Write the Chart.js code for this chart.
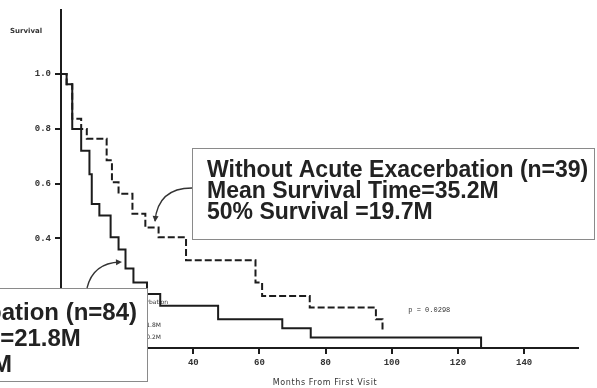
<!DOCTYPE html>
<html>
<head>
<meta charset="utf-8">
<script src="https://cdn.jsdelivr.net/npm/chart.js@4"></script>
<style>
  body { margin: 0; background: #fff; }
</style>
</head>
<body>
<canvas id="chart1" width="597" height="388"></canvas>
<script>
// Kaplan-Meier steps (months, survival after the drop)
const withMonths = [0, 1.7, 3.4, 6.1, 8.6, 9.3, 11.6, 15.0, 17.4, 19.5, 21.9, 26.0, 30.0, 47.5, 66.9, 75.5, 127.0];
const withSurvival = [1.0, 0.963, 0.80, 0.72, 0.634, 0.526, 0.484, 0.404, 0.36, 0.29, 0.239, 0.197, 0.154, 0.105, 0.072, 0.038, 0.0];

const withoutMonths = [0, 1.7, 3.4, 6.1, 7.8, 13.8, 15.4, 17.4, 21.6, 25.5, 29.5, 37.8, 58.8, 60.8, 75.2, 95.2, 97.2];
const withoutSurvival = [1.0, 0.963, 0.837, 0.80, 0.764, 0.685, 0.605, 0.563, 0.49, 0.44, 0.404, 0.32, 0.239, 0.19, 0.148, 0.105, 0.062];

const xTicks = [0, 20, 40, 60, 80, 100, 120, 140];
const yTicks = [0, 0.2, 0.4, 0.6, 0.8, 1.0];

const withoutLines = ['Without Acute Exacerbation (n=39)', 'Mean Survival Time=35.2M', '50% Survival =19.7M'];
const withLines = ['With Acute Exacerbation (n=84)', 'Mean Survival Time=21.8M', '50% Survival =10.2M'];
const pValue = 'p = 0.0298';

const ink = '#1c1c1c';

function toPoints(xs, ys) {
  return xs.map((x, i) => ({ x: x, y: ys[i] }));
}

// small arrow head at the end of a curve
function arrowHead(ctx, x, y, angle) {
  ctx.save();
  ctx.translate(x, y);
  ctx.rotate(angle);
  ctx.beginPath();
  ctx.moveTo(0, 0);
  ctx.lineTo(-6, -3);
  ctx.lineTo(-6, 3);
  ctx.closePath();
  ctx.fill();
  ctx.restore();
}

const annotations = {
  id: 'annotations',
  afterDraw(chart) {
    const ctx = chart.ctx;
    const xs = chart.scales.x;
    const ys = chart.scales.y;
    ctx.save();
    ctx.fillStyle = '#333';
    ctx.textBaseline = 'middle';

    // axis titles
    ctx.font = 'bold 7px "DejaVu Sans"';
    ctx.textAlign = 'left';
    ctx.fillText('Survival', 10, 31);
    ctx.font = '8px "DejaVu Sans"';
    ctx.letterSpacing = '0.6px';
    ctx.textAlign = 'center';
    ctx.fillText('Months From First Visit', 325, 383);
    ctx.letterSpacing = '0px';

    // p value
    ctx.font = '7px "Liberation Mono"';
    ctx.textAlign = 'left';
    ctx.fillText(pValue, xs.getPixelForValue(105), ys.getPixelForValue(0.139));

    // the small original legend, mostly hidden by the box
    ctx.font = '6px "DejaVu Sans"';
    ctx.textAlign = 'right';
    ctx.fillText('With Acute Exacerbation', 168, 302);
    ctx.fillText('MST=21.8M', 161, 325);
    ctx.fillText('50%=10.2M', 161, 337);

    // box for the group without exacerbation
    ctx.fillStyle = '#fff';
    ctx.strokeStyle = '#8a8a8a';
    ctx.lineWidth = 1;
    ctx.fillRect(192, 148, 403, 92);
    ctx.strokeRect(192.5, 148.5, 402, 91);
    ctx.fillStyle = '#222';
    ctx.font = 'bold 23px "Liberation Sans"';
    ctx.textAlign = 'left';
    ctx.textBaseline = 'alphabetic';
    withoutLines.forEach((t, i) => ctx.fillText(t, 207, 177 + i * 21));

    // box for the group with exacerbation
    ctx.fillStyle = '#fff';
    ctx.fillRect(-10, 288, 157, 94);
    ctx.strokeRect(-10, 288.5, 157.5, 93);
    ctx.fillStyle = '#222';
    ctx.font = 'bold 24px "Liberation Sans"';
    const x0 = 137 - ctx.measureText(withLines[0]).width;
    withLines.forEach((t, i) => ctx.fillText(t, x0, 320 + i * 26));

    // curved pointers
    ctx.strokeStyle = '#333';
    ctx.fillStyle = '#333';
    ctx.lineWidth = 1.3;
    ctx.beginPath();
    ctx.moveTo(192, 188);
    ctx.quadraticCurveTo(158, 188, 155, 221);
    ctx.stroke();
    arrowHead(ctx, 155, 222, Math.PI / 2 + 0.1);

    ctx.beginPath();
    ctx.moveTo(87, 288);
    ctx.quadraticCurveTo(93, 263, 120, 262);
    ctx.stroke();
    arrowHead(ctx, 122, 262, -0.05);

    ctx.restore();
  }
};

function axisStyle() {
  return {
    grid: { drawOnChartArea: false, drawTicks: true, tickLength: 6, lineWidth: 2, color: ink },
    border: { display: true, color: ink, width: 2 },
  };
}

const ctx = document.getElementById('chart1').getContext('2d');
const chart1 = new Chart(ctx, {
  type: 'line',
  data: {
    datasets: [
      {
        label: 'With Acute Exacerbation',
        data: toPoints(withMonths, withSurvival),
        stepped: 'before',
        borderColor: ink,
        borderWidth: 2,
        pointRadius: 0,
        fill: false,
      },
      {
        label: 'Without Acute Exacerbation',
        data: toPoints(withoutMonths, withoutSurvival),
        stepped: 'before',
        borderColor: ink,
        borderWidth: 2,
        borderDash: [7, 3],
        pointRadius: 0,
        fill: false,
      },
    ],
  },
  options: {
    responsive: false,
    animation: false,
    layout: { padding: { left: 0, right: 19, top: 10, bottom: 0 } },
    plugins: {
      legend: { display: false },
      tooltip: { enabled: false },
    },
    scales: {
      x: {
        type: 'linear',
        min: 0,
        max: 156.3,
        ...axisStyle(),
        ticks: { color: '#333', padding: 3, font: { family: 'Liberation Mono', size: 9, weight: 'bold' } },
        afterBuildTicks: s => { s.ticks = xTicks.map(v => ({ value: v })); },
        afterFit: s => { s.height = 40; },
      },
      y: {
        type: 'linear',
        min: 0,
        max: 1.234,
        ...axisStyle(),
        ticks: {
          color: '#333',
          padding: 4,
          font: { family: 'Liberation Mono', size: 9, weight: 'bold' },
          callback: v => v.toFixed(1),
        },
        afterBuildTicks: s => { s.ticks = yTicks.map(v => ({ value: v })); },
        afterFit: s => { s.width = 61; },
      },
    },
  },
  plugins: [annotations],
});
</script>
</body>
</html>
